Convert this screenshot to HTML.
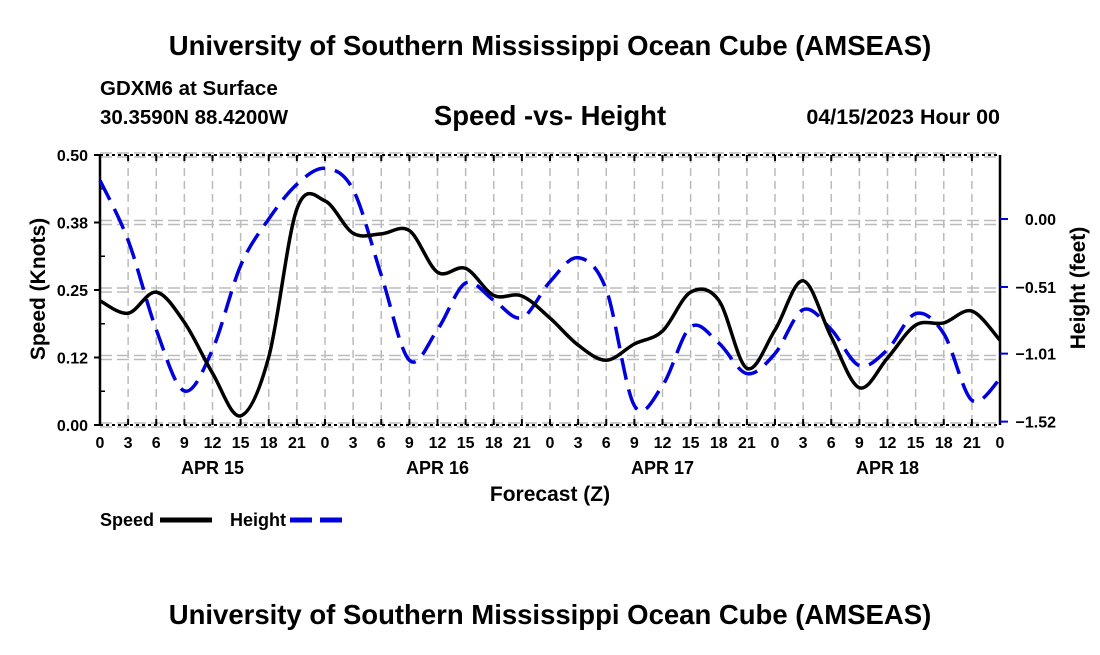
<!DOCTYPE html>
<html><head><meta charset="utf-8"><style>
body{margin:0;background:#fff;}
svg text{font-family:"Liberation Sans",Arial,sans-serif;font-weight:bold;fill:#000;}
</style></head><body>
<svg width="1100" height="650" viewBox="0 0 1100 650">
<text x="550" y="55" font-size="27.5" text-anchor="middle">University of Southern Mississippi Ocean Cube (AMSEAS)</text>
<text x="100" y="95" font-size="20.5">GDXM6 at Surface</text>
<text x="100" y="124" font-size="20.5">30.3590N  88.4200W</text>
<text x="550" y="125" font-size="27.5" text-anchor="middle">Speed -vs- Height</text>
<text x="1000" y="124" font-size="21.5" text-anchor="end">04/15/2023 Hour 00</text>
<g id="grid"></g>
<g id="axes"></g>
<path id="hline" fill="none" stroke="#0000dd" stroke-width="3.5" stroke-dasharray="22,10"/>
<path id="sline" fill="none" stroke="#000" stroke-width="3.5"/>
<text x="550" y="501" font-size="21" text-anchor="middle">Forecast (Z)</text>
<text transform="translate(45,289) rotate(-90)" font-size="21" text-anchor="middle">Speed (Knots)</text>
<text transform="translate(1085,288) rotate(-90)" font-size="21" text-anchor="middle">Height (feet)</text>
<g>
<text x="100" y="526" font-size="18">Speed</text>
<line x1="160" y1="520" x2="212" y2="520" stroke="#000" stroke-width="5"/>
<text x="230" y="526" font-size="18">Height</text>
<line x1="290" y1="520" x2="342" y2="520" stroke="#0000dd" stroke-width="5" stroke-dasharray="22,8"/>
</g>
<text x="550" y="624" font-size="27.5" text-anchor="middle">University of Southern Mississippi Ocean Cube (AMSEAS)</text>
</svg>
<script>
const hours=[0,3,6,9,12,15,18,21,24,27,30,33,36,39,42,45,48,51,54,57,60,63,66,69,72,75,78,81,84,87,90,93,96];
const speed=[0.23,0.207,0.246,0.19,0.096,0.017,0.126,0.40,0.415,0.355,0.354,0.36,0.283,0.29,0.24,0.239,0.198,0.148,0.12,0.15,0.174,0.246,0.231,0.105,0.176,0.267,0.163,0.069,0.124,0.185,0.189,0.211,0.157];
const height=[0.29,-0.16,-0.83,-1.29,-0.98,-0.35,0.0,0.26,0.38,0.22,-0.42,-1.06,-0.83,-0.48,-0.61,-0.74,-0.47,-0.29,-0.53,-1.40,-1.25,-0.81,-0.93,-1.16,-1.01,-0.68,-0.83,-1.10,-0.98,-0.71,-0.86,-1.36,-1.20];
const xTickLabels=["0","3","6","9","12","15","18","21"];
const dayLabels=["APR 15","APR 16","APR 17","APR 18"];
const leftTicks=[0,0.125,0.25,0.375,0.5];
const leftTickLabels=["0.00","0.12","0.25","0.38","0.50"];
const rightTicks=[0,-0.51,-1.01,-1.52];
const rightTickLabels=["0.00","-0.51","-1.01","-1.52"];

const X0=100,X1=1000,Y0=425,Y1=155;
const xs=h=>X0+h*(X1-X0)/96;
const ys=v=>Y0-v*(Y0-Y1)/0.5;
const yh=v=>219-v*133.3;
const NS="http://www.w3.org/2000/svg";
const grid=document.getElementById('grid'),axes=document.getElementById('axes');
function mk(tag,attrs,parent){const e=document.createElementNS(NS,tag);for(const k in attrs)e.setAttribute(k,attrs[k]);parent.appendChild(e);return e;}
for(let h=3;h<96;h+=3){
  const l=mk('line',{x1:xs(h),x2:xs(h),y1:Y1,y2:Y0,stroke:'#bbb','stroke-width':1.5,'stroke-dasharray':'8,5'},grid);
  
  
}
for(const v of leftTicks){
  for(const d of [-2,2]){
    const l=mk('line',{x1:X0,x2:X1,y1:ys(v)+d,y2:ys(v)+d,stroke:'#bbb','stroke-width':1.5,'stroke-dasharray':'12,5'},grid);
    
    
  }
}
mk('line',{x1:X0,x2:X1,y1:Y1,y2:Y1,stroke:'#000','stroke-width':2,'stroke-dasharray':'3,3'},axes);
mk('line',{x1:X0,x2:X1,y1:Y0,y2:Y0,stroke:'#000','stroke-width':2,'stroke-dasharray':'3,3'},axes);
mk('line',{x1:X0,x2:X0,y1:Y1,y2:Y0,stroke:'#000','stroke-width':2.5},axes);
mk('line',{x1:X1,x2:X1,y1:Y1,y2:Y0,stroke:'#000','stroke-width':2.5},axes);
for(let h=0;h<=96;h+=3){
  const x=xs(h);
  mk('line',{x1:x,x2:x,y1:Y0,y2:Y0-6,stroke:'#000','stroke-width':2},axes);
  mk('line',{x1:x,x2:x,y1:Y1,y2:Y1+6,stroke:'#000','stroke-width':2},axes);
  const t=mk('text',{x:x,y:Y0+23,'font-size':16,'text-anchor':'middle'},axes);
  t.textContent=xTickLabels[(h/3)%8];
  
  
}
dayLabels.forEach((d,i)=>{
  const t=mk('text',{x:xs(12+24*i),y:Y0+49,'font-size':18,'text-anchor':'middle'},axes);
  t.textContent=d;
  
  
});
leftTicks.forEach((v,i)=>{
  mk('line',{x1:X0-6,x2:X0,y1:ys(v),y2:ys(v),stroke:'#000','stroke-width':2},axes);
  const t=mk('text',{x:X0-12,y:ys(v)+6,'font-size':16,'text-anchor':'end'},axes);
  t.textContent=leftTickLabels[i];
  
  
});
for(let v=0.0625;v<0.5;v+=0.125){mk('line',{x1:X0,x2:X0+5,y1:ys(v),y2:ys(v),stroke:'#000','stroke-width':1.5},axes);}
rightTicks.forEach((v,i)=>{
  mk('line',{x1:X1,x2:X1+8,y1:yh(v),y2:yh(v),stroke:'#0000dd','stroke-width':2},axes);
  const t=mk('text',{x:1056,y:yh(v)+6,'font-size':16,'text-anchor':'end'},axes);
  t.textContent=rightTickLabels[i].replace('-','\u2212');
  
  
});
function smooth(pts){
  let d='M'+pts[0][0]+','+pts[0][1];
  for(let i=0;i<pts.length-1;i++){
    const p0=pts[Math.max(0,i-1)],p1=pts[i],p2=pts[i+1],p3=pts[Math.min(pts.length-1,i+2)];
    const c1=[p1[0]+(p2[0]-p0[0])/6,p1[1]+(p2[1]-p0[1])/6];
    const c2=[p2[0]-(p3[0]-p1[0])/6,p2[1]-(p3[1]-p1[1])/6];
    d+=' C'+c1+' '+c2+' '+p2;
  }
  return d;
}
document.getElementById('sline').setAttribute('d',smooth(hours.map((h,i)=>[xs(h),ys(speed[i])])));
document.getElementById('hline').setAttribute('d',smooth(hours.map((h,i)=>[xs(h),yh(height[i])])));
</script>
</body></html>
